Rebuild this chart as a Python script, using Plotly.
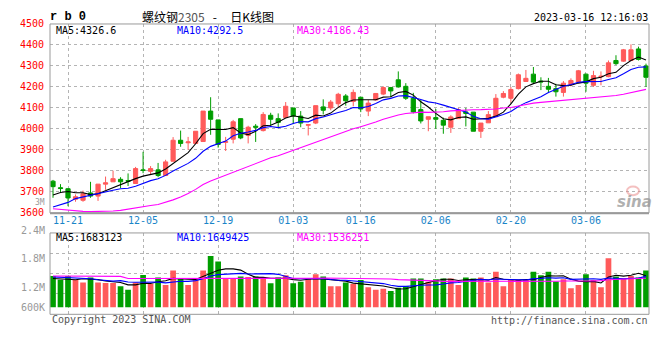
import numpy as np
import plotly.graph_objects as go

# ---------------- data ----------------
dates = [
    "2022-11-17", "2022-11-18", "2022-11-21", "2022-11-22", "2022-11-23", "2022-11-24", "2022-11-25",
    "2022-11-28", "2022-11-29", "2022-11-30",
    "2022-12-01", "2022-12-02", "2022-12-05", "2022-12-06", "2022-12-07", "2022-12-08", "2022-12-09",
    "2022-12-12", "2022-12-13", "2022-12-14", "2022-12-15", "2022-12-16", "2022-12-19", "2022-12-20",
    "2022-12-21", "2022-12-22", "2022-12-23", "2022-12-26", "2022-12-27", "2022-12-28", "2022-12-29",
    "2022-12-30",
    "2023-01-03", "2023-01-04", "2023-01-05", "2023-01-06", "2023-01-09", "2023-01-10", "2023-01-11",
    "2023-01-12", "2023-01-13", "2023-01-16", "2023-01-17", "2023-01-18", "2023-01-19", "2023-01-20",
    "2023-01-30", "2023-01-31",
    "2023-02-01", "2023-02-02", "2023-02-03", "2023-02-06", "2023-02-07", "2023-02-08", "2023-02-09",
    "2023-02-10", "2023-02-13", "2023-02-14", "2023-02-15", "2023-02-16", "2023-02-17", "2023-02-20",
    "2023-02-21", "2023-02-22", "2023-02-23", "2023-02-24", "2023-02-27", "2023-02-28",
    "2023-03-01", "2023-03-02", "2023-03-03", "2023-03-06", "2023-03-07", "2023-03-08", "2023-03-09",
    "2023-03-10", "2023-03-13", "2023-03-14", "2023-03-15", "2023-03-16",
]

opens = [3751, 3720, 3715, 3665, 3660, 3695, 3680, 3737, 3748, 3760,
         3754, 3740, 3805, 3798, 3805, 3778, 3846, 3946, 3934, 3931,
         3940, 4085, 4043, 3936, 3951, 4049, 3969, 4013, 3992, 4065,
         4049, 4054, 4100, 4061, 4018, 4028, 4105, 4100, 4120, 4157,
         4131, 4151, 4085, 4138, 4166, 4197, 4234, 4203, 4146, 4092,
         4046, 4054, 4041, 4008, 4049, 4081, 4080, 3989, 4029, 4058,
         4151, 4146, 4192, 4226, 4261, 4228, 4203, 4192, 4174, 4212,
         4223, 4261, 4208, 4249, 4249, 4326, 4323, 4326, 4381, 4300]
highs = [3757, 3737, 3718, 3688, 3706, 3748, 3737, 3773, 3801, 3770,
         3788, 3819, 3891, 3823, 3838, 3853, 3961, 3992, 3962, 3989,
         4085, 4151, 4043, 3962, 4043, 4049, 4015, 4023, 4080, 4077,
         4074, 4128, 4100, 4085, 4023, 4111, 4141, 4138, 4172, 4166,
         4188, 4151, 4138, 4169, 4203, 4200, 4274, 4218, 4172, 4138,
         4058, 4095, 4054, 4065, 4100, 4100, 4080, 4028, 4085, 4166,
         4180, 4200, 4264, 4281, 4295, 4246, 4243, 4215, 4228, 4241,
         4281, 4264, 4277, 4274, 4326, 4351, 4381, 4403, 4392, 4311]
lows = [3672, 3698, 3632, 3653, 3653, 3672, 3657, 3710, 3748, 3718,
        3728, 3740, 3789, 3783, 3770, 3778, 3846, 3915, 3900, 3928,
        3940, 3972, 3911, 3895, 3931, 3951, 3931, 3938, 3988, 4015,
        4008, 4054, 4023, 4008, 3969, 4023, 4069, 4089, 4105, 4111,
        4108, 4080, 4061, 4135, 4161, 4151, 4197, 4138, 4074, 4026,
        3989, 4000, 3977, 3981, 4049, 4012, 3989, 3957, 4029, 4058,
        4146, 4126, 4188, 4226, 4218, 4185, 4172, 4154, 4154, 4203,
        4220, 4177, 4200, 4208, 4246, 4304, 4320, 4323, 4326, 4200]
closes = [3725, 3716, 3671, 3677, 3691, 3680, 3737, 3743, 3763, 3748,
          3751, 3811, 3802, 3811, 3778, 3843, 3946, 3931, 3938, 3989,
          4085, 4046, 3926, 3939, 4034, 3957, 4008, 4008, 4069, 4046,
          4031, 4108, 4061, 4028, 4020, 4111, 4089, 4128, 4165, 4134,
          4174, 4095, 4123, 4169, 4197, 4181, 4200, 4146, 4081, 4038,
          4058, 4046, 4018, 4057, 4092, 4074, 3989, 4028, 4068, 4146,
          4169, 4188, 4258, 4241, 4223, 4224, 4189, 4177, 4218, 4231,
          4277, 4218, 4254, 4251, 4315, 4311, 4377, 4377, 4331, 4246]
volumes = [1668000, 1462000, 1668000, 1462000, 1324000, 1582000, 1324000, 1290000, 1290000, 1118000,
           929000, 1324000, 1720000, 1238000, 1582000, 1187000, 1961000, 1531000, 1187000, 1531000,
           1961000, 2735000, 2442000, 1548000, 1531000, 1634000, 1617000, 1634000, 1531000, 1273000,
           1582000, 1703000, 1273000, 1359000, 1531000, 1754000, 1634000, 1118000, 1118000, 1324000,
           1238000, 1445000, 1066000, 929000, 980000, 860000, 1032000, 1118000, 1531000, 1531000,
           1359000, 1496000, 1531000, 1531000, 1187000, 1582000, 1531000, 1582000, 1324000, 1892000,
           1118000, 1445000, 1445000, 1445000, 1892000, 1703000, 1892000, 1376000, 1496000, 1015000,
           1187000, 1754000, 1445000, 1066000, 2614000, 1634000, 1531000, 1668000, 1582000, 1961000]

# moving-average values before a full window exists
ma5_head = [3685, 3697, 3702, 3696]
ma10_head = [3628, 3640, 3650, 3668, 3676, 3685, 3695, 3702, 3708]
ma30_head = [3620, 3616, 3612, 3609, 3607, 3606, 3606, 3607, 3609, 3612,
             3618, 3625, 3632, 3635, 3640, 3650, 3662, 3676, 3692, 3712,
             3735, 3752, 3766, 3779, 3792, 3806, 3820, 3834, 3848]
vma5_head = [1531000, 1496000, 1496000, 1462000]
vma10_head = [1617000, 1600000, 1582000, 1565000, 1548000, 1514000, 1462000, 1428000, 1393000]
vma30_head = [1668000, 1668000, 1668000, 1665000, 1662000, 1660000, 1658000, 1655000, 1652000, 1645000,
              1531000, 1531000, 1531000, 1531000, 1531000, 1531000, 1531000, 1531000, 1531000, 1531000,
              1514000, 1514000, 1514000, 1514000, 1514000, 1514000, 1514000, 1514000, 1531000]

tick_dates = ["2022-11-21", "2022-12-05", "2022-12-19", "2023-01-03",
              "2023-01-16", "2023-02-06", "2023-02-20", "2023-03-06"]
tick_text = ["11-21", "12-05", "12-19", "01-03", "01-16", "02-06", "02-20", "03-06"]
price_ticks = [3600, 3700, 3800, 3900, 4000, 4100, 4200, 4300, 4400, 4500]
vol_tick_text = ["2.4M", "1.8M", "1.2M", "600K"]
legend_price = ["MA5:4326.6", "MA10:4292.5", "MA30:4186.43"]
legend_vol = ["MA5:1683123", "MA10:1649425", "MA30:1536251"]


def moving_avg(values, n, head):
    v = np.asarray(values, dtype=float)
    full = np.convolve(v, np.ones(n) / n, mode="valid")
    return list(head) + list(full)


ma5 = moving_avg(closes, 5, ma5_head)
ma10 = moving_avg(closes, 10, ma10_head)
ma30 = moving_avg(closes, 30, ma30_head)
vma5 = moving_avg(volumes, 5, vma5_head)
vma10 = moving_avg(volumes, 10, vma10_head)
vma30 = moving_avg(volumes, 30, vma30_head)

# ---------------- style ----------------
# the page body has an 8px margin, so the figure is sized to end at the window edge
OFF = 8
W, H = 660 - OFF, 360 - OFF
RED = "#FF5A5A"
GREEN = "#009E00"
GRID = "#B4B4B4"
FRAME = "#9A9A9A"
MONO = "DejaVu Sans Mono"


def px(x):
    return (x - OFF) / W


def py(y):
    return 1 - (y - OFF) / H


vol_colors = [RED if c >= o else GREEN for o, c in zip(opens, closes)]

fig = go.Figure()
fig.add_trace(go.Candlestick(
    x=dates, open=opens, high=highs, low=lows, close=closes,
    increasing=dict(line=dict(color=RED, width=1), fillcolor=RED),
    decreasing=dict(line=dict(color=GREEN, width=1), fillcolor=GREEN),
    whiskerwidth=0, xaxis="x", yaxis="y", showlegend=False, hoverinfo="skip",
))
for vals, col in [(ma5, "#000000"), (ma10, "#0000FF"), (ma30, "#FF00FF")]:
    fig.add_trace(go.Scatter(x=dates, y=vals, mode="lines", line=dict(color=col, width=1.1),
                             xaxis="x", yaxis="y", showlegend=False, hoverinfo="skip"))

fig.add_trace(go.Bar(x=dates, y=volumes, marker=dict(color=vol_colors, line=dict(width=0)),
                     xaxis="x2", yaxis="y2", showlegend=False, hoverinfo="skip"))
for vals, col in [(vma5, "#000000"), (vma10, "#0000FF"), (vma30, "#FF00FF")]:
    fig.add_trace(go.Scatter(x=dates, y=vals, mode="lines", line=dict(color=col, width=1.1),
                             xaxis="x2", yaxis="y2", showlegend=False, hoverinfo="skip"))

# volume axis: 0 sits at the bars' baseline, ~51.6K per pixel
vol_top_px, vol_bot_px, vol_base_px = 234.0, 318.0, 310.7
per_px = 51600.0
v_lo = -(vol_bot_px - vol_base_px) * per_px
v_hi = (vol_base_px - vol_top_px) * per_px
vol_grid = [v_lo + (v_hi - v_lo) * k / 4 for k in (1, 2, 3)]

x_dom = [px(50), px(649)]
xr = [-0.4, len(dates) - 0.6]

fig.update_layout(
    width=W, height=H, margin=dict(l=0, r=0, t=0, b=0), autosize=False,
    paper_bgcolor="white", plot_bgcolor="white",
    boxgap=0.2, bargap=0.24, showlegend=False,
    xaxis=dict(domain=x_dom, type="category", range=xr, anchor="y",
               tickvals=tick_dates, ticktext=tick_text, ticks="",
               tickfont=dict(family=MONO, size=10, color="#1A85C8"),
               showgrid=True, gridcolor=GRID, griddash="dot", gridwidth=1,
               zeroline=False, showline=False, rangeslider=dict(visible=False), fixedrange=True),
    yaxis=dict(domain=[py(213.3), py(18.3)], range=[3600, 4500], anchor="x",
               tickvals=price_ticks, ticks="outside", ticklen=3, tickcolor="rgba(0,0,0,0)",
               tickfont=dict(family=MONO, size=10, color="#FF0000"),
               showgrid=True, gridcolor=GRID, griddash="dot", gridwidth=1,
               zeroline=False, showline=False, fixedrange=True),
    xaxis2=dict(domain=x_dom, type="category", range=xr, anchor="y2",
                tickvals=tick_dates, showticklabels=False, ticks="",
                showgrid=True, gridcolor=GRID, griddash="dot", gridwidth=1,
                zeroline=False, showline=False, fixedrange=True),
    yaxis2=dict(domain=[py(vol_bot_px), py(vol_top_px)], range=[v_lo, v_hi], anchor="x2",
                tickvals=vol_grid, showticklabels=False, ticks="",
                showgrid=True, gridcolor=GRID, griddash="dot", gridwidth=1,
                zeroline=False, showline=False, fixedrange=True),
)

shapes = [
    dict(type="rect", xref="paper", yref="paper", x0=px(50), x1=px(649), y0=py(213.3), y1=py(18.3),
         line=dict(color=FRAME, width=1)),
    dict(type="line", xref="paper", yref="paper", x0=px(50), x1=px(649), y0=py(213.6), y1=py(213.6),
         line=dict(color=FRAME, width=2)),
    dict(type="rect", xref="paper", yref="paper", x0=px(50), x1=px(649), y0=py(vol_bot_px), y1=py(vol_top_px),
         line=dict(color=FRAME, width=1)),
    dict(type="circle", xref="paper", yref="paper", x0=px(627), x1=px(639), y0=py(195), y1=py(186),
         line=dict(color="rgba(235,140,140,0.55)", width=2)),
]
fig.update_layout(shapes=shapes)

ann = []


def text(x, y, s, color="#000000", size=10, family=MONO, xanchor="left", bold=False, italic=False):
    f = dict(family=family, size=size, color=color)
    if bold:
        f["weight"] = "bold"
    if italic:
        f["style"] = "italic"
    ann.append(dict(x=px(x), y=py(y), xref="paper", yref="paper", text=s, showarrow=False,
                    xanchor=xanchor, yanchor="middle", font=f))


NB = "\u00a0"
text(48, 11.5, "r b 0", size=12, family="Liberation Mono", bold=True)
text(140, 11, "螺纹钢<span style='color:#555555'>2305</span>" + NB * 3 + "-" + NB * 5 + "日K线图",
     size=12, family="Noto Sans CJK SC")
text(649.5, 11.5, "2023-03-16 12:16:03", xanchor="right")

for s, x, col in zip(legend_price, [54, 175, 295], ["#000000", "#0000FF", "#FF00FF"]):
    text(x, 25, s, color=col)
for s, x, col in zip(legend_vol, [54, 175, 295], ["#000000", "#0000FF", "#FF00FF"]):
    text(x, 238.5, s, color=col)

for s, y in zip(vol_tick_text, [231.2, 260.8, 290.3, 310.7]):
    text(46.5, y, s, color="#999999", xanchor="right")
text(46.5, 202.3, "3M", color="#999999", size=8, xanchor="right")

text(49.5, 323.5, "Copyright 2023 SINA.COM", color="#555555")
text(649.5, 324, "http://finance.sina.com.cn", color="#555555", xanchor="right")
text(634, 202, "sina", color="rgba(150,150,150,0.75)", size=15, family="DejaVu Sans",
     xanchor="center", bold=True, italic=True)

fig.update_layout(annotations=ann)
fig.write_html("out.html")
